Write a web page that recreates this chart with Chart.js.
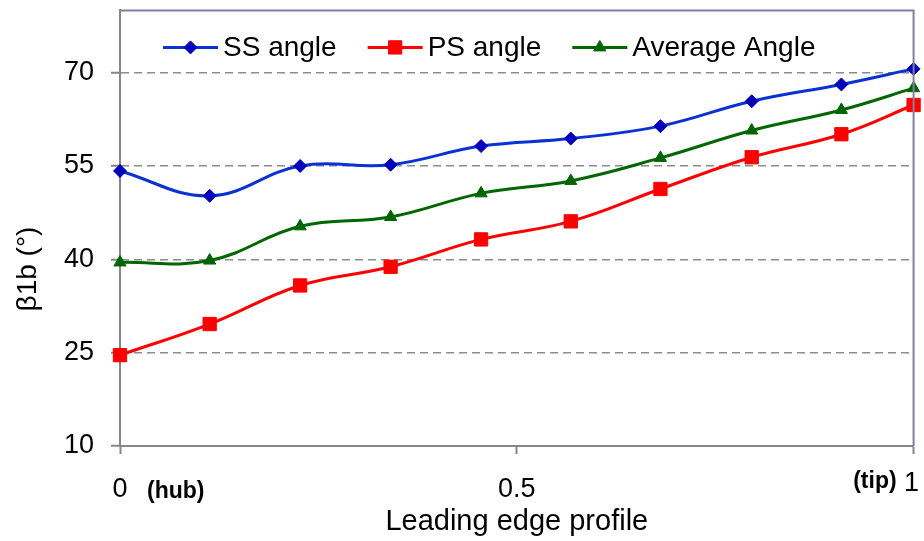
<!DOCTYPE html>
<html>
<head>
<meta charset="utf-8">
<script src="https://cdn.jsdelivr.net/npm/chart.js@4/dist/chart.umd.min.js"></script>
<style>
  html, body { margin: 0; padding: 0; background: #ffffff; }
  #wrap { width: 924px; height: 541px; }
</style>
</head>
<body>
<div id="wrap"><canvas id="c" width="924" height="541"></canvas></div>
<script>
// Spanwise position along the leading edge (0 = hub, 1 = tip)
const profilePos = [0, 0.113, 0.227, 0.341, 0.455, 0.568, 0.681, 0.796, 0.909, 1];
// Blade inlet angles, degrees
const ssAngle  = [54.2, 50.2, 55.0, 55.2, 58.2, 59.4, 61.4, 65.4, 68.1, 70.6];
const psAngle  = [24.6, 29.6, 35.8, 38.8, 43.2, 46.1, 51.3, 56.4, 60.1, 64.8];
const avgAngle = [39.5, 39.8, 45.3, 46.8, 50.6, 52.6, 56.3, 60.7, 64.0, 67.5];

const seriesNames = ['SS angle', 'PS angle', 'Average Angle'];
const yTicks = [10, 25, 40, 55, 70];
const xTicks = [0, 0.5, 1];
const yTitle = 'β1b (°)';
const xTitle = 'Leading edge profile';
const hubLabel = '(hub)';
const tipLabel = '(tip)';

const FONT = "'Liberation Sans', Arial, sans-serif";
const AXIS_GRAY = '#868686';

function pts(ys) { return profilePos.map((x, i) => ({ x: x, y: ys[i] })); }

function series(label, ys, line, marker, style, radius) {
  return {
    label: label,
    data: pts(ys),
    showLine: true,
    borderColor: line,
    backgroundColor: marker,
    borderWidth: 3,
    tension: 0.4,
    pointStyle: style,
    pointRadius: radius,
    pointHoverRadius: radius,
    pointBackgroundColor: marker,
    pointBorderColor: marker,
    pointBorderWidth: 1,
    clip: false
  };
}

// Marker shapes for the legend, same geometry as the chart's point styles
function drawMarker(ctx, style, r, x, y) {
  ctx.beginPath();
  if (style === 'rectRot') {
    ctx.moveTo(x, y - r); ctx.lineTo(x + r, y); ctx.lineTo(x, y + r); ctx.lineTo(x - r, y);
  } else if (style === 'rect') {
    const s = Math.SQRT1_2 * r;
    ctx.rect(x - s, y - s, 2 * s, 2 * s);
  } else if (style === 'triangle') {
    const a = Math.PI / 2;
    ctx.moveTo(x + Math.cos(-a) * r, y + Math.sin(-a) * r);
    ctx.lineTo(x + Math.cos(-a + 2 * Math.PI / 3) * r, y + Math.sin(-a + 2 * Math.PI / 3) * r);
    ctx.lineTo(x + Math.cos(-a + 4 * Math.PI / 3) * r, y + Math.sin(-a + 4 * Math.PI / 3) * r);
  }
  ctx.closePath();
  ctx.fill();
  ctx.stroke();
}

const decorations = {
  id: 'decorations',
  afterDraw(chart) {
    const ctx = chart.ctx;
    const a = chart.chartArea;
    const xs = chart.scales.x;
    ctx.save();

    // frame on the top and right sides of the plot
    ctx.strokeStyle = '#8080a0';
    ctx.lineWidth = 2;
    ctx.beginPath();
    ctx.moveTo(a.left, a.top);
    ctx.lineTo(a.right, a.top);
    ctx.lineTo(a.right, a.bottom);
    ctx.stroke();

    // legend inside the plot
    ctx.font = '28px ' + FONT;
    ctx.textBaseline = 'middle';
    ctx.textAlign = 'left';
    let lx = a.left + 43;
    const ly = a.top + 37;
    chart.data.datasets.forEach(ds => {
      ctx.strokeStyle = ds.borderColor;
      ctx.lineWidth = 3;
      ctx.beginPath();
      ctx.moveTo(lx, ly);
      ctx.lineTo(lx + 55, ly);
      ctx.stroke();
      ctx.fillStyle = ds.pointBackgroundColor;
      ctx.strokeStyle = ds.pointBorderColor;
      ctx.lineWidth = 1;
      drawMarker(ctx, ds.pointStyle, ds.pointRadius, lx + 27.5, ly);
      ctx.fillStyle = '#000000';
      ctx.fillText(ds.label, lx + 60, ly + 1);
      lx += 60 + ctx.measureText(ds.label).width + 31;
    });

    // y axis title
    ctx.save();
    ctx.translate(28, 269);
    ctx.rotate(-Math.PI / 2);
    ctx.textAlign = 'center';
    ctx.textBaseline = 'middle';
    ctx.fillStyle = '#000000';
    ctx.font = '28px ' + FONT;
    ctx.fillText(yTitle, 0, 0);
    ctx.restore();

    // hub / tip annotations and the end label
    ctx.fillStyle = '#000000';
    ctx.textBaseline = 'alphabetic';
    ctx.font = 'bold 23px ' + FONT;
    ctx.textAlign = 'left';
    ctx.fillText(hubLabel, xs.getPixelForValue(0) + 27, 498);
    ctx.textAlign = 'right';
    ctx.fillText(tipLabel, xs.getPixelForValue(1) - 17, 488);
    ctx.font = '27px ' + FONT;
    ctx.textAlign = 'center';
    ctx.fillText(String(xTicks[2]), xs.getPixelForValue(1) - 2, 491);

    ctx.restore();
  }
};

new Chart(document.getElementById('c'), {
  type: 'scatter',
  data: {
    datasets: [
      series(seriesNames[0], ssAngle, '#0a32d2', '#0000bb', 'rectRot', 6.5),
      series(seriesNames[1], psAngle, '#ff0000', '#ff0000', 'rect', 9.4),
      series(seriesNames[2], avgAngle, '#006600', '#006400', 'triangle', 7)
    ]
  },
  options: {
    responsive: false,
    devicePixelRatio: 1,
    animation: false,
    layout: { padding: { top: 10, right: 7, left: 0, bottom: 0 } },
    plugins: { legend: { display: false }, tooltip: { enabled: false } },
    scales: {
      x: {
        type: 'linear',
        min: 0,
        max: 1,
        afterBuildTicks: s => { s.ticks = xTicks.map(v => ({ value: v })); },
        afterFit: s => { s.height = 95; s.paddingLeft = 0; s.paddingRight = 0; },
        ticks: {
          color: '#000000',
          font: { family: FONT, size: 27 },
          padding: 19,
          maxRotation: 0,
          autoSkip: false,
          callback: v => (v === 1 ? '' : String(v))
        },
        grid: {
          drawOnChartArea: false,
          drawTicks: true,
          tickLength: 8,
          tickColor: AXIS_GRAY,
          tickWidth: 2
        },
        border: { display: true, color: AXIS_GRAY, width: 2 },
        title: {
          display: true,
          text: xTitle,
          color: '#000000',
          font: { family: FONT, size: 29 },
          padding: { top: 0, bottom: 2 }
        }
      },
      y: {
        type: 'linear',
        min: 10,
        max: 80,
        afterBuildTicks: s => { s.ticks = yTicks.map(v => ({ value: v })); },
        afterFit: s => { s.width = 120; s.paddingTop = 0; s.paddingBottom = 0; },
        ticks: {
          color: '#000000',
          font: { family: FONT, size: 27 },
          padding: 17,
          autoSkip: false
        },
        grid: {
          color: ctx => (ctx.tick && ctx.tick.value === 10 ? 'rgba(0,0,0,0)' : '#8c8c8c'),
          lineWidth: 1.5,
          drawTicks: true,
          tickLength: 9,
          tickColor: AXIS_GRAY,
          tickWidth: 2,
          tickBorderDash: []
        },
        border: { display: true, color: AXIS_GRAY, width: 2, dash: [8, 5] }
      }
    }
  },
  plugins: [decorations]
});
</script>
</body>
</html>
